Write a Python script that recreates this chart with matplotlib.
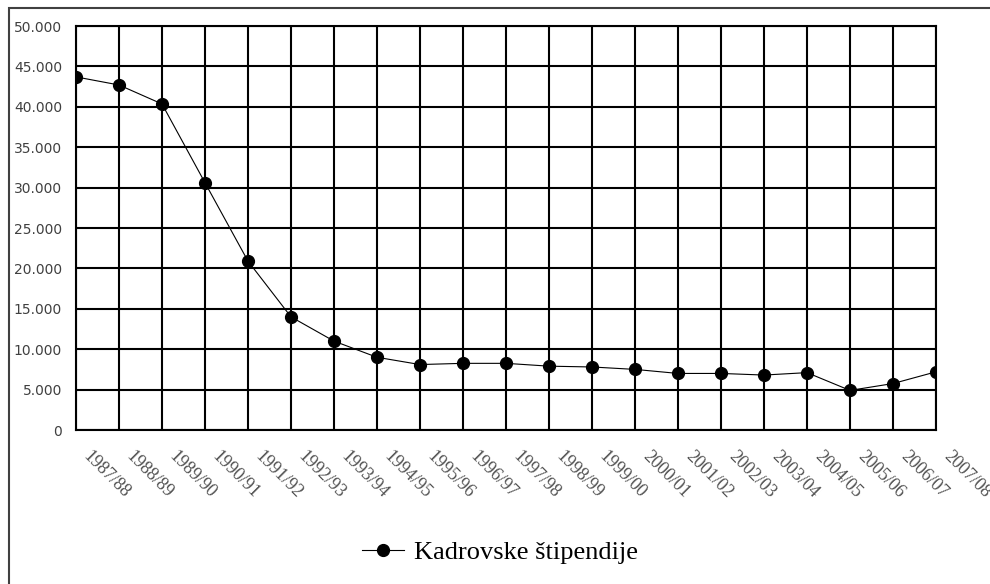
import matplotlib
matplotlib.use("Agg")
import matplotlib.pyplot as plt
from matplotlib.ticker import FuncFormatter
from matplotlib.transforms import ScaledTranslation
from matplotlib.patches import Rectangle

# Data
years = ['1987/88', '1988/89', '1989/90', '1990/91', '1991/92', '1992/93', '1993/94',
         '1994/95', '1995/96', '1996/97', '1997/98', '1998/99', '1999/00', '2000/01',
         '2001/02', '2002/03', '2003/04', '2004/05', '2005/06', '2006/07', '2007/08']
kadrovske = [43700, 42700, 40350, 30600, 20900, 14000, 11000,
             9000, 8100, 8250, 8250, 7900, 7800, 7500,
             7000, 7000, 6800, 7100, 4900, 5750, 7200]
y_ticks = [0, 5000, 10000, 15000, 20000, 25000, 30000, 35000, 40000, 45000, 50000]
series_label = "Kadrovske štipendije"

fig = plt.figure(figsize=(9.9, 5.84), dpi=100)
ax = fig.add_axes([76 / 990, 1 - 430 / 584, 860 / 990, 404 / 584])

x = list(range(len(years)))
ax.plot(x, kadrovske, color='black', linewidth=0.8, marker='o', markersize=8.5,
        markerfacecolor='black', markeredgecolor='black', label=series_label, zorder=3)

ax.set_xlim(0, len(years) - 1)
ax.set_ylim(0, 50000)
ax.set_xticks(x)
ax.set_xticklabels(years)
ax.set_yticks(y_ticks)
ax.yaxis.set_major_formatter(FuncFormatter(lambda v, p: f"{v:,.0f}".replace(',', '.')))

# black grid on every tick
ax.grid(True, color='black', linewidth=1.5)
for s in ax.spines.values():
    s.set_color('black')
    s.set_linewidth(1.5)

ax.tick_params(axis='both', length=0)
ax.tick_params(axis='y', pad=10, labelsize=10, labelcolor='#404040')
ax.tick_params(axis='x', pad=13)
for lab in ax.get_yticklabels():
    lab.set_fontfamily('DejaVu Sans')
for lab in ax.get_xticklabels():
    lab.set_fontfamily('Liberation Serif')
    lab.set_fontsize(13)
    lab.set_color('#505050')
    lab.set_rotation(-45)
    lab.set_rotation_mode('anchor')
    lab.set_ha('left')
    lab.set_va('top')
    lab.set_transform(lab.get_transform() + ScaledTranslation(0.16, 0, fig.dpi_scale_trans))

# outer frame, cut by the image edge on the right and bottom
fig.add_artist(Rectangle((9 / 990, -0.1), 1.5, 1 - 8 / 584 + 0.1, transform=fig.transFigure,
                         fill=False, edgecolor='#404040', linewidth=1.5))

fig.legend(loc='center', bbox_to_anchor=(500 / 990, 1 - 552 / 584), frameon=False,
           prop={'family': 'Liberation Serif', 'size': 19}, handlelength=1.6,
           handletextpad=0.4)

fig.savefig("out.png", dpi=100)
